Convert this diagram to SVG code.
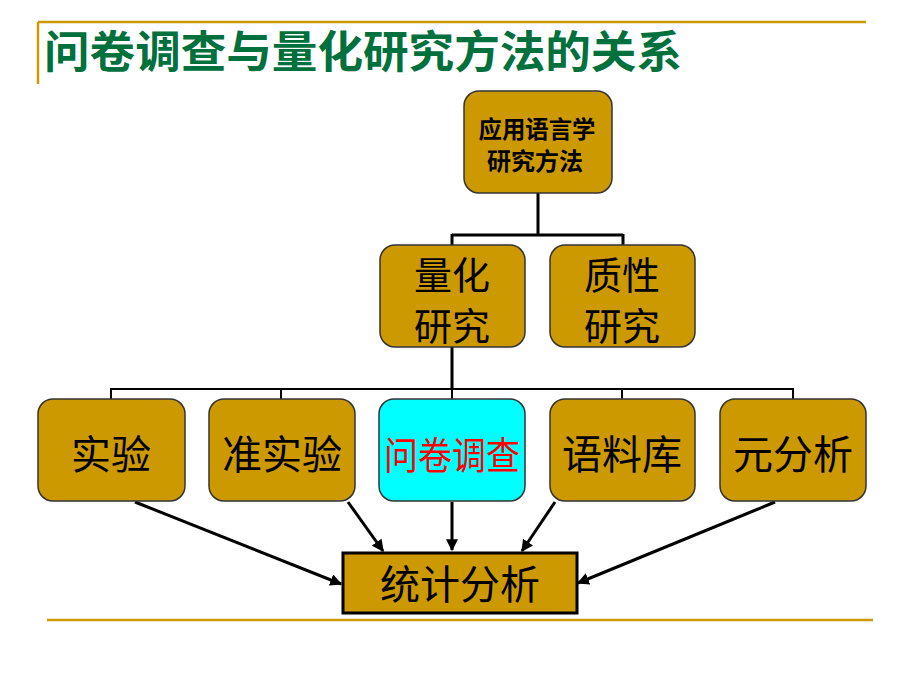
<svg xmlns="http://www.w3.org/2000/svg" width="920" height="690" viewBox="0 0 920 690">
<defs>
<style>
.box{fill:#CC9900;stroke:#333333;stroke-width:1.5}
.hl{fill:#00FFFF;stroke:#333333;stroke-width:1.5}
.t{font-family:"Noto Sans CJK SC","Liberation Sans",sans-serif;fill:#000;text-anchor:middle}
.tree{fill:none;stroke:#000;stroke-width:3}
.tree2{fill:none;stroke:#000;stroke-width:2}
.arr{fill:none;stroke:#000;stroke-width:3;marker-end:url(#ah)}
.gold{stroke:#CC9900;stroke-width:2.5;fill:none}
</style>
<marker id="ah" viewBox="0 0 10 10" refX="9" refY="5" markerWidth="4" markerHeight="4" orient="auto" markerUnits="strokeWidth">
<path d="M0,0 L10,5 L0,10 z" fill="#000"/>
</marker>
</defs>
<rect width="920" height="690" fill="#fff"/>
<g id="frame">
<line class="gold" x1="38" y1="22" x2="866" y2="22"/>
<line class="gold" x1="38" y1="22" x2="38" y2="84"/>
<line class="gold" x1="47" y1="620" x2="873" y2="620"/>
</g>
<g id="title">
<text x="44" y="68" font-family="'Noto Sans CJK SC','Liberation Sans',sans-serif" font-size="44" font-weight="bold" fill="#00703C" textLength="638" lengthAdjust="spacingAndGlyphs">问卷调查与量化研究方法的关系</text>
</g>
<g id="connectors">
<path class="tree" d="M538,193 V235 M452,235 H623 M452,234 V245 M623,234 V245 M452,347 V389"/>
<path class="tree2" d="M110,389 H794 M111,389 V399 M281,389 V399 M452,389 V399 M622,389 V399 M793,389 V399"/>
<line class="arr" x1="135" y1="502" x2="341" y2="584"/>
<line class="arr" x1="348" y1="502" x2="383" y2="551"/>
<line class="arr" x1="452" y1="502" x2="452" y2="550"/>
<line class="arr" x1="555" y1="502" x2="522" y2="551"/>
<line class="arr" x1="775" y1="502" x2="578" y2="583"/>
</g>
<g id="n-root">
<rect class="box" x="464" y="91" width="148" height="102" rx="15"/>
<text class="t" x="537" y="138" font-size="24" font-weight="bold" textLength="117" lengthAdjust="spacingAndGlyphs">应用语言学</text>
<text class="t" x="535" y="170" font-size="24" font-weight="bold">研究方法</text>
</g>
<g id="n-quant">
<rect class="box" x="380" y="245" width="145" height="102" rx="15"/>
<text class="t" x="452" y="289" font-size="38">量化</text>
<text class="t" x="452" y="340" font-size="38">研究</text>
</g>
<g id="n-qual">
<rect class="box" x="550" y="245" width="145" height="102" rx="15"/>
<text class="t" x="622" y="289" font-size="38">质性</text>
<text class="t" x="622" y="340" font-size="38">研究</text>
</g>
<g id="n-exp">
<rect class="box" x="38" y="399" width="147" height="102" rx="15"/>
<text class="t" x="111" y="469" font-size="40">实验</text>
</g>
<g id="n-quasi">
<rect class="box" x="209" y="399" width="146" height="102" rx="15"/>
<text class="t" x="282" y="469" font-size="40">准实验</text>
</g>
<g id="n-survey">
<rect class="hl" x="379" y="399" width="146" height="102" rx="15"/>
<text class="t" x="452" y="469" font-size="38" style="fill:#FF0000" textLength="136" lengthAdjust="spacingAndGlyphs">问卷调查</text>
</g>
<g id="n-corpus">
<rect class="box" x="550" y="399" width="145" height="102" rx="15"/>
<text class="t" x="622" y="469" font-size="40">语料库</text>
</g>
<g id="n-meta">
<rect class="box" x="720" y="399" width="146" height="102" rx="15"/>
<text class="t" x="793" y="469" font-size="40">元分析</text>
</g>
<g id="n-stats">
<rect x="343" y="553" width="234" height="60" fill="#CC9900" stroke="#000" stroke-width="3"/>
<text class="t" x="460" y="599" font-size="40">统计分析</text>
</g>
</svg>
